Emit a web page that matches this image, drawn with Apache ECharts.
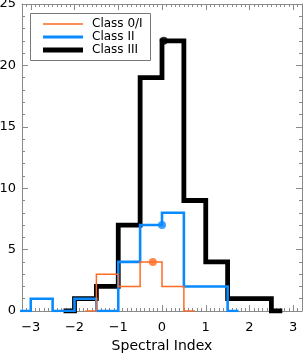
<!DOCTYPE html>
<html>
<head>
<meta charset="utf-8">
<script src="https://cdn.jsdelivr.net/npm/echarts@6/dist/echarts.min.js"></script>
<style>html,body{margin:0;padding:0;background:#fff}#c{width:303px;height:354px}</style>
</head>
<body>
<div id="c"></div>
<script>
// Bin centers (bin width 0.5), drawn IDL psym=10 style (step: middle)
const class0IX = [-1.75, -1.25, -0.75, -0.25, 0.25, 0.75];
const class0IY = [0, 3, 2, 4, 2, 0];
const class2X = [-3.25, -2.75, -2.25, -1.75, -1.25, -0.75, -0.25, 0.25, 0.75, 1.25, 1.75];
const class2Y = [0, 1, 0, 1, 0, 4, 7, 8, 2, 2, 0];
const class3X = [-2.25, -1.75, -1.25, -0.75, -0.25, 0.25, 0.75, 1.25, 1.75, 2.25, 2.75];
const class3Y = [0, 1, 2, 7, 19, 22, 9, 4, 1, 1, 0];
// Marked points (median markers)
const class0IDot = [-0.21, 4];
const class2Dot = [0.0, 7];
const class3Dot = [0.04, 22];

const xTickLabels = [-3, -2, -1, 0, 1, 2, 3];
const yTickLabels = [0, 5, 10, 15, 20, 25];
const seriesNames = ['Class 0/I', 'Class II', 'Class III'];

const colOrange = '#ff6a22';
const colBlue = '#0a8aff';
const colBlack = '#000000';
const axisGray = '#8a8a8a';
const lineWidths = [1.5, 2.6, 4.8];
const legendWidths = [1.5, 3, 5];
const colors = [colOrange, colBlue, colBlack];

const xMinor = [];
for (let i = -32; i <= 32; i++) xMinor.push(i / 10);
const yMinor = [];
for (let i = 0; i <= 25; i++) yMinor.push(i);

const pairs = (xs, ys) => xs.map((x, i) => [x, ys[i]]);
const font = 'DejaVu Sans';

const chart = echarts.init(document.getElementById('c'), null, {renderer: 'canvas'});

const xBase = {type: 'value', min: -3.2, max: 3.2, gridIndex: 0, splitLine: {show: false}};
const yBase = {type: 'value', min: 0, max: 25, gridIndex: 0, splitLine: {show: false}};

// Legend drawn as a framed box (lines + real text)
const legendGraphics = [
  {type: 'rect', shape: {x: 30.5, y: 13.5, width: 120, height: 47},
   style: {fill: '#fff', stroke: '#777', lineWidth: 1}, z: 100}
];
seriesNames.forEach((name, i) => {
  const y = 24 + i * 13;
  legendGraphics.push({type: 'line', shape: {x1: 43, y1: y, x2: 83, y2: y},
    style: {stroke: colors[i], lineWidth: legendWidths[i]}, z: 101});
  legendGraphics.push({type: 'text', x: 92, y: y,
    style: {text: name, fill: '#000', font: '12px "DejaVu Sans"', textVerticalAlign: 'middle', verticalAlign: 'middle'}, z: 101});
});

chart.setOption({
  animation: false,
  backgroundColor: '#fff',
  grid: {left: 22, right: 1, top: 4, bottom: 43, containLabel: false, outerBoundsMode: 'none'},
  xAxis: [
    Object.assign({}, xBase, {
      position: 'bottom',
      name: 'Spectral Index', nameLocation: 'middle', nameGap: 28,
      nameTextStyle: {fontFamily: font, fontSize: 14, color: '#000', verticalAlign: 'top'},
      axisLine: {show: true, onZero: false, lineStyle: {color: axisGray, width: 1}},
      axisTick: {show: true, inside: true, length: 3, customValues: xMinor, lineStyle: {color: axisGray}},
      axisLabel: {show: true, margin: 10, customValues: xTickLabels, fontFamily: font, fontSize: 13, color: '#000',
        formatter: v => (v < 0 ? '\u2212' + Math.abs(v) : String(v))}
    }),
    Object.assign({}, xBase, {
      position: 'bottom',
      axisLine: {show: false, onZero: false},
      axisTick: {show: true, inside: true, length: 6, customValues: xTickLabels, lineStyle: {color: axisGray}},
      axisLabel: {show: false}
    }),
    Object.assign({}, xBase, {
      position: 'top',
      axisLine: {show: true, onZero: false, lineStyle: {color: axisGray, width: 1}},
      axisTick: {show: true, inside: true, length: 3, customValues: xMinor, lineStyle: {color: axisGray}},
      axisLabel: {show: false}
    }),
    Object.assign({}, xBase, {
      position: 'top',
      axisLine: {show: false, onZero: false},
      axisTick: {show: true, inside: true, length: 6, customValues: xTickLabels, lineStyle: {color: axisGray}},
      axisLabel: {show: false}
    })
  ],
  yAxis: [
    Object.assign({}, yBase, {
      position: 'left',
      axisLine: {show: true, onZero: false, lineStyle: {color: axisGray, width: 1}},
      axisTick: {show: true, inside: true, length: 3, customValues: yMinor, lineStyle: {color: axisGray}},
      axisLabel: {show: true, margin: 6, customValues: yTickLabels, fontFamily: font, fontSize: 13, color: '#000'}
    }),
    Object.assign({}, yBase, {
      position: 'left',
      axisLine: {show: false, onZero: false},
      axisTick: {show: true, inside: true, length: 6, customValues: yTickLabels, lineStyle: {color: axisGray}},
      axisLabel: {show: false}
    }),
    Object.assign({}, yBase, {
      position: 'right',
      axisLine: {show: true, onZero: false, lineStyle: {color: axisGray, width: 1}},
      axisTick: {show: true, inside: true, length: 3, customValues: yMinor, lineStyle: {color: axisGray}},
      axisLabel: {show: false}
    }),
    Object.assign({}, yBase, {
      position: 'right',
      axisLine: {show: false, onZero: false},
      axisTick: {show: true, inside: true, length: 6, customValues: yTickLabels, lineStyle: {color: axisGray}},
      axisLabel: {show: false}
    })
  ],
  graphic: legendGraphics,
  series: [
    {name: seriesNames[2], type: 'line', step: 'middle', data: pairs(class3X, class3Y), symbol: 'none',
      lineStyle: {color: colBlack, width: lineWidths[2], join: 'miter', cap: 'butt'}, itemStyle: {color: colBlack}, z: 2, clip: true},
    {name: seriesNames[1], type: 'line', step: 'middle', data: pairs(class2X, class2Y), symbol: 'none',
      lineStyle: {color: colBlue, width: lineWidths[1], join: 'miter', cap: 'butt'}, itemStyle: {color: colBlue}, z: 3, clip: true},
    {name: seriesNames[0], type: 'line', step: 'middle', data: pairs(class0IX, class0IY), symbol: 'none',
      lineStyle: {color: colOrange, width: lineWidths[0], join: 'miter', cap: 'butt'}, itemStyle: {color: colOrange}, z: 4, clip: true},
    {name: 'dot3', type: 'scatter', data: [class3Dot], symbol: 'circle', symbolSize: 8, itemStyle: {color: colBlack}, z: 5},
    {name: 'dot2', type: 'scatter', data: [class2Dot], symbol: 'circle', symbolSize: 8, itemStyle: {color: colBlue}, z: 5},
    {name: 'dot0', type: 'scatter', data: [class0IDot], symbol: 'circle', symbolSize: 8, itemStyle: {color: colOrange}, z: 5}
  ]
});
</script>
</body>
</html>
